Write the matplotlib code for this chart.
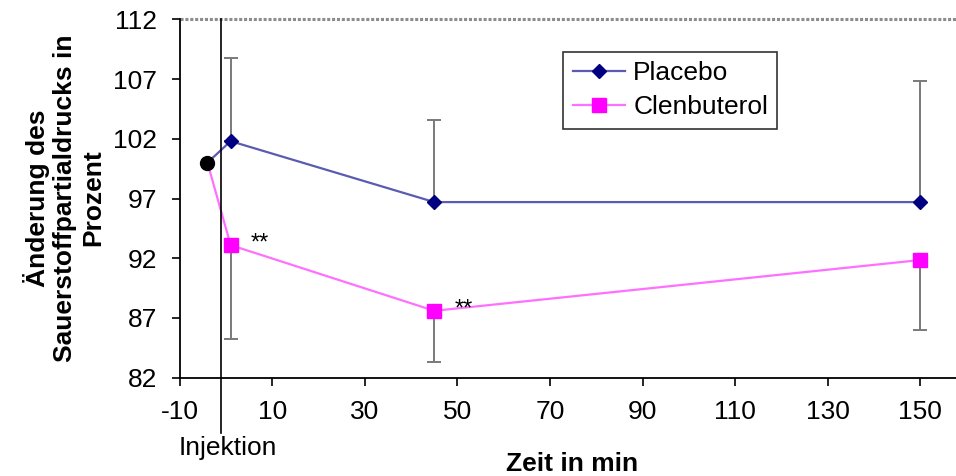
import matplotlib
matplotlib.use("Agg")
import matplotlib.pyplot as plt
from matplotlib.lines import Line2D

plt.rcParams['font.family'] = ['Liberation Sans', 'DejaVu Sans']
plt.rcParams['axes.unicode_minus'] = False

# ---- data ----
baseline_x = [-4]
baseline_y = [100.0]
time_points = [1, 45, 150]
placebo = [101.8, 96.7, 96.7]
placebo_err_up = [7.0, 6.9, 10.1]
clen = [93.1, 87.6, 91.85]
clen_err_down = [7.85, 4.3, 5.85]
injection_time = -1
star_points = [(1, 93.1), (45, 87.6)]
xticks = [-10, 10, 30, 50, 70, 90, 110, 130, 150]
yticks = [82, 87, 92, 97, 102, 107, 112]

W, H = 956, 476
fig = plt.figure(figsize=(W/100, H/100), dpi=100)
ax = fig.add_axes([179.7/W, 1-377.7/H, (W-179.7)/W, (377.7-19.3)/H])
ax.set_xlim(-10, 157.7)
ax.set_ylim(82, 112)

pl_col = '#5b5bb0'
pl_mark = '#000080'
cl_col = '#ff70ff'
cl_mark = '#ff00ff'
err_col = '#7a7a7a'

# top gridline
ax.axhline(112, color='#8c8c8c', lw=2.2, ls=(0, (1, 0.6)), clip_on=False, zorder=1)

# error bars
ax.errorbar(time_points, placebo, yerr=[[0]*3, placebo_err_up], fmt='none',
            ecolor=err_col, elinewidth=1.4, capsize=5, capthick=1.4, zorder=2)
ax.errorbar(time_points, clen, yerr=[clen_err_down, [0]*3], fmt='none',
            ecolor=err_col, elinewidth=1.4, capsize=5, capthick=1.4, zorder=2)

# lines
ax.plot(baseline_x + time_points, baseline_y + placebo, color=pl_col, lw=1.6, zorder=3)
ax.plot(baseline_x + time_points, baseline_y + clen, color=cl_col, lw=1.6, zorder=3)
ax.plot(time_points, placebo, ls='none', marker='D', ms=7, color=pl_mark, zorder=4)
ax.plot(time_points, clen, ls='none', marker='s', ms=10, color=cl_mark, zorder=4)
ax.plot(baseline_x, baseline_y, ls='none', marker='o', ms=10, color='black', zorder=5)

# injection line
ax.plot([injection_time, injection_time], [112, 77.4], color='black', lw=1.2,
        clip_on=False, zorder=3)
ax.annotate('Injektion', xy=(injection_time, 82), xycoords='data',
            xytext=(5, -55.5), textcoords='offset points', ha='center', va='baseline',
            fontsize=19, annotation_clip=False)

for (sx, sy) in star_points:
    ax.annotate('**', xy=(sx, sy), xytext=(21, 1), textcoords='offset points',
                ha='center', va='center', fontsize=17)

# spines / ticks
for s in ['top', 'right']:
    ax.spines[s].set_visible(False)
ax.spines['left'].set_linewidth(1.3)
ax.spines['bottom'].set_linewidth(1.3)
ax.set_xticks(xticks)
ax.set_yticks(yticks)
ax.tick_params(axis='both', direction='out', length=6, width=1.2, labelsize=19, pad=10)

# labels
fig.text(64/W, 1-198/H, 'Änderung des\nSauerstoffpartialdrucks in\nProzent', rotation=90,
         ha='center', va='center', fontsize=19, fontweight='bold', linespacing=1.2)
fig.text(572/W, 1-471/H, 'Zeit in min', ha='center', va='baseline', fontsize=19,
         fontweight='bold')

handles = [Line2D([], [], color=pl_col, lw=1.6, marker='D', ms=7, mfc=pl_mark, mec=pl_mark),
           Line2D([], [], color=cl_col, lw=1.6, marker='s', ms=10, mfc=cl_mark, mec=cl_mark)]
leg = ax.legend(handles, ['Placebo', 'Clenbuterol'], loc='upper left',
                bbox_to_anchor=((563.3-179.7)/(W-179.7), (377.7-51.7)/(377.7-19.3)),
                fontsize=19, frameon=True, fancybox=False, edgecolor='black',
                handlelength=2.0, handletextpad=0.3, labelspacing=0.4, borderpad=0.35,
                borderaxespad=0)
leg.get_frame().set_linewidth(1.2)

fig.savefig('out.png', dpi=100)
